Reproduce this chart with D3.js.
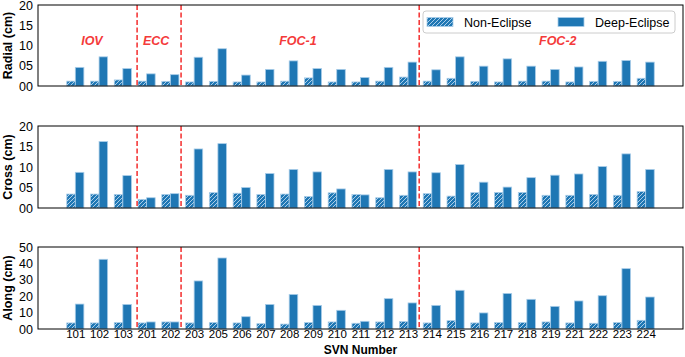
<!DOCTYPE html>
<html>
<head>
<meta charset="utf-8">
<script src="https://cdn.jsdelivr.net/npm/d3@7"></script>
<style>
  body { margin: 0; background: #fff; }
  svg { font-family: "Liberation Sans", Arial, sans-serif; }
</style>
</head>
<body>
<svg id="chart"></svg>
<script>
// SVN numbers along the x axis
const categories = ['101','102','103','201','202','203','205','206','207','208','209','210','211','212','213','214','215','216','217','218','219','221','222','223','224']

// Radial (cm)
const radialNon  = [1.2,1.2,1.5,1.2,1.15,1.0,1.15,1.0,1.0,1.2,2.0,1.0,1.0,1.2,2.2,1.2,1.9,1.15,1.0,1.2,1.2,1.0,1.15,1.15,1.9]
const radialDeep = [4.6,7.2,4.3,3.0,2.8,7.1,9.2,2.7,4.1,6.2,4.3,4.1,2.1,4.6,5.9,4.0,7.2,4.9,6.7,4.9,4.1,4.7,6.1,6.3,5.9]
// Cross (cm)
const crossNon   = [3.4,3.4,3.3,2.1,3.3,3.1,3.75,3.6,3.3,3.4,2.8,3.7,3.3,2.5,3.1,3.5,2.9,3.75,3.8,3.8,3.1,3.1,3.3,3.1,4.0]
const crossDeep  = [8.7,16.2,7.9,2.5,3.5,14.4,15.7,5.0,8.4,9.4,8.8,4.65,3.2,9.4,8.8,8.6,10.6,6.3,5.1,7.4,8.0,8.3,10.1,13.2,9.4]
// Along (cm)
const alongNon   = [3.7,3.7,3.9,3.7,4.3,3.7,3.9,3.7,3.25,3.0,3.9,4.3,3.5,4.3,4.5,3.7,5.1,3.7,3.9,3.9,4.3,3.7,3.5,3.9,5.3]
const alongDeep  = [15.2,42.5,15.0,4.3,4.3,29.3,43.3,7.5,15.0,21.1,14.4,11.4,4.7,18.5,15.9,14.4,23.6,9.8,21.7,18.1,13.8,17.1,20.3,36.8,19.5]

const radialTicks = [0,5,10,15,20]
const crossTicks  = [0,5,10,15,20]
const alongTicks  = [0,10,20,30,40,50]

// satellite groups: boundaries (in category index units) and labels
const groupBounds = [2.6, 4.45, 14.47]
const groupNames  = ['IOV','ECC','FOC-1','FOC-2']
const groupPos    = [0.7, 3.4, 9.37, 20.3]
const groupY      = 11

const seriesNames = ['Non-Eclipse','Deep-Eclipse']

const W = 685, H = 357
const left = 38, right = 683
const blue = '#1f77b4', edge = '#a9cde9', red = '#f43a3a'

const svg = d3.select('#chart').attr('width', W).attr('height', H)

// hatch pattern for Non-Eclipse bars
const defs = svg.append('defs')
const pat = defs.append('pattern')
    .attr('id','hatch')
    .attr('patternUnits','userSpaceOnUse')
    .attr('width',4).attr('height',4)
pat.append('rect').attr('width',4).attr('height',4).attr('fill',blue)
pat.append('path')
    .attr('d','M-1,1 l2,-2 M0,4 l4,-4 M3,5 l2,-2')
    .attr('stroke',edge).attr('stroke-width',1)

const x = d3.scalePoint().domain(categories).range([left, right]).padding(1.57)
const step = x.step()
const bw = step * 0.36
// index -> pixel for boundaries/labels
const xi = d3.scaleLinear().domain([0, categories.length - 1]).range([x(categories[0]), x(categories[categories.length - 1])])

const panels = [
    { label: 'Radial (cm)', non: radialNon, deep: radialDeep, ticks: radialTicks, max: 20, top: 5,   bottom: 86 },
    { label: 'Cross (cm)',  non: crossNon,  deep: crossDeep,  ticks: crossTicks,  max: 20, top: 126, bottom: 208 },
    { label: 'Along (cm)',  non: alongNon,  deep: alongDeep,  ticks: alongTicks,  max: 50, top: 247, bottom: 329 }
]

panels.forEach((p, pi) => {
    const y = d3.scaleLinear().domain([0, p.max]).range([p.bottom, p.top])
    const g = svg.append('g')

    // bars
    g.append('g').selectAll('rect')
        .data(p.non)
        .join('rect')
        .attr('x', (d,i) => x(categories[i]) - bw)
        .attr('y', d => y(d))
        .attr('width', bw)
        .attr('height', d => y(0) - y(d))
        .attr('fill','url(#hatch)')
        .attr('stroke', edge).attr('stroke-width', 0.8)

    g.append('g').selectAll('rect')
        .data(p.deep)
        .join('rect')
        .attr('x', (d,i) => x(categories[i]))
        .attr('y', d => y(d))
        .attr('width', bw)
        .attr('height', d => y(0) - y(d))
        .attr('fill', blue)
        .attr('stroke', edge).attr('stroke-width', 0.8)

    // group separators
    g.append('g').selectAll('line')
        .data(groupBounds)
        .join('line')
        .attr('x1', d => xi(d)).attr('x2', d => xi(d))
        .attr('y1', p.top).attr('y2', p.bottom)
        .attr('stroke', red).attr('stroke-width', 1.6)
        .attr('stroke-dasharray','5,2.5')

    // y axis
    const ya = g.append('g')
        .attr('transform', `translate(${left},0)`)
        .call(d3.axisLeft(y).tickValues(p.ticks).tickFormat(d3.format('02d')).tickSize(0).tickPadding(5))
    ya.select('.domain').remove()
    ya.selectAll('text').attr('font-size', 12.5).attr('fill','#000').attr('font-family','Liberation Sans, Arial, sans-serif')

    // frame
    g.append('rect')
        .attr('x', left).attr('y', p.top)
        .attr('width', right - left).attr('height', p.bottom - p.top)
        .attr('fill','none').attr('stroke','#000').attr('stroke-width',1)

    g.append('text')
        .attr('transform', `translate(8,${(p.top + p.bottom) / 2}) rotate(-90)`)
        .attr('text-anchor','middle')
        .attr('dominant-baseline','central')
        .attr('font-size', 12.5).attr('font-weight','bold')
        .text(p.label)

    if (pi === 0) {
        g.append('g').selectAll('text')
            .data(groupNames)
            .join('text')
            .attr('x', (d,i) => xi(groupPos[i]))
            .attr('y', y(groupY))
            .attr('text-anchor','middle')
            .attr('dominant-baseline','central')
            .attr('font-size', 12.5).attr('font-weight','bold').attr('font-style','italic')
            .attr('fill', red)
            .text(d => d)
    }

    if (pi === panels.length - 1) {
        const xa = g.append('g')
            .attr('transform', `translate(0,${p.bottom})`)
            .call(d3.axisBottom(x).tickSize(0).tickPadding(1))
        xa.select('.domain').remove()
        xa.selectAll('text').attr('font-size', 11.5).attr('fill','#000').attr('font-family','Liberation Sans, Arial, sans-serif')

        g.append('text')
            .attr('x', (left + right) / 2).attr('y', 354)
            .attr('text-anchor','middle')
            .attr('font-size', 12).attr('font-weight','bold')
            .text('SVN Number')
    }
})

// legend
const lg = svg.append('g').attr('transform','translate(423,11)')
lg.append('rect')
    .attr('width', 252).attr('height', 22).attr('rx', 3)
    .attr('fill','rgba(255,255,255,0.8)').attr('stroke','#ccc')
const items = lg.selectAll('g.item')
    .data(seriesNames)
    .join('g')
    .attr('class','item')
    .attr('transform', (d,i) => `translate(${i === 0 ? 4 : 135},0)`)
items.append('rect')
    .attr('y', 6.5).attr('width', 26).attr('height', 9)
    .attr('fill', (d,i) => i === 0 ? 'url(#hatch)' : blue)
    .attr('stroke', edge).attr('stroke-width', 0.8)
items.append('text')
    .attr('x', 37).attr('y', 11.5)
    .attr('dominant-baseline','central')
    .attr('font-size', 12.5)
    .text(d => d)
</script>
</body>
</html>
